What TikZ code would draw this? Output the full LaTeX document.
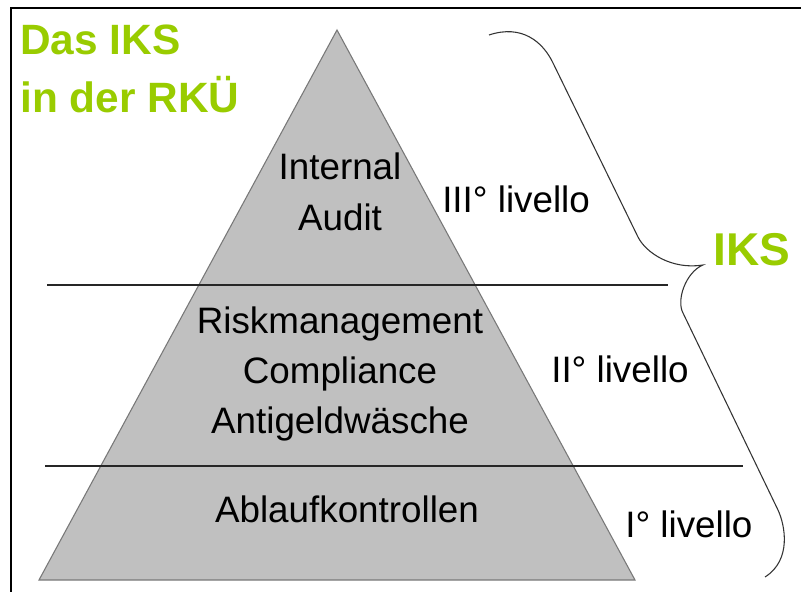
\documentclass[tikz,border=0pt]{standalone}
\usepackage{fontspec}
\setmainfont{Liberation Sans}
\definecolor{iksgreen}{RGB}{153,204,0}
\definecolor{pyrfill}{RGB}{192,192,192}
\definecolor{pyredge}{RGB}{120,120,120}
\begin{document}
\begin{tikzpicture}[x=0.75pt,y=-0.75pt,
  lbl/.style={font=\fontsize{27.6}{32}\selectfont, inner sep=0pt, anchor=base, text=black},
  title/.style={font=\fontsize{31.8}{36}\selectfont\bfseries, inner sep=0pt, anchor=base west, text=iksgreen},
  divider/.style={draw=black!85, line width=1.4pt},
  brace/.style={draw=black!80, line width=0.8pt}]
\useasboundingbox (0,0) rectangle (801,592);
\fill[white] (0,0) rectangle (801,592);
% frame
\draw[line width=1.6pt] (11,592) -- (11,8) -- (801,8);
% pyramid
\coordinate (apex) at (337,30);
\coordinate (bl) at (39,580);
\coordinate (br) at (635,580);
\filldraw[fill=pyrfill, draw=pyredge, line width=0.8pt] (apex) -- (br) -- (bl) -- cycle;
% dividers
\coordinate (d1a) at (47,285);
\coordinate (d1b) at (668,285);
\coordinate (d2a) at (45,466);
\coordinate (d2b) at (743,466);
\draw[divider] (d1a) -- (d1b);
\draw[divider] (d2a) -- (d2b);
% brace
\coordinate (btop) at (489,35);
\coordinate (btip) at (703,265);
\coordinate (bbot) at (765,577);
\draw[brace] (btop) .. controls (522,24) and (543,42) .. (553,63)
  -- (638,237) .. controls (646,253) and (672,270) .. (btip)
  .. controls (686,272) and (676,300) .. (683,313)
  -- (778,510) .. controls (785,525) and (792,560) .. (bbot);
% titles
\node[title] (t1) at (20,55) {Das IKS};
\node[title] (t2) at (20,113) {in der RKÜ};
\node[title, font=\fontsize{34.5}{40}\selectfont\bfseries] (iks) at (713,265) {IKS};
% level texts
\node[lbl] (ia1) at (340,180) {Internal};
\node[lbl] (ia2) at (340,230) {Audit};
\node[lbl] (rm1) at (340,333) {Riskmanagement};
\node[lbl] (rm2) at (340,383) {Compliance};
\node[lbl] (rm3) at (340,433) {Antigeldwäsche};
\node[lbl] (ak) at (347,522) {Ablaufkontrollen};
\node[lbl, anchor=base west] (l3) at (442,213) {III° livello};
\node[lbl, anchor=base west] (l2) at (551,382) {II° livello};
\node[lbl, anchor=base west] (l1) at (625,537) {I° livello};
\end{tikzpicture}
\end{document}
